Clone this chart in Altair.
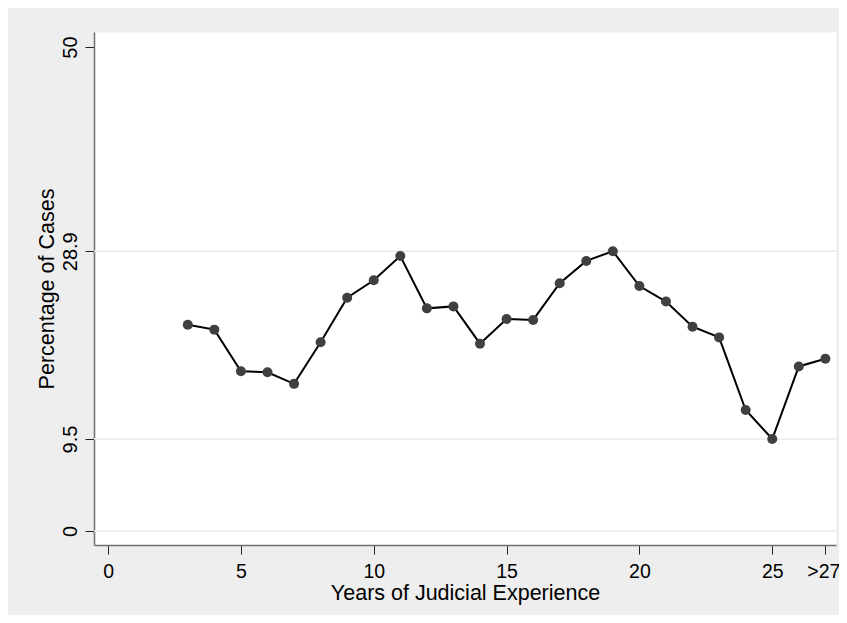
import altair as alt
import pandas as pd

years = list(range(3, 28))
pct = [21.3, 20.8, 16.5, 16.4, 15.2, 19.5, 24.1, 25.9, 28.4, 23.0, 23.2, 19.35,
       21.9, 21.8, 25.6, 27.9, 28.9, 25.3, 23.7, 21.1, 20.0, 12.5, 9.5, 17.0, 17.8]
x_ticks = [0, 5, 10, 15, 20, 25, 27]
y_ticks = [0, 9.5, 28.9, 50]
grid_vals = [0, 9.5, 28.9]

df = pd.DataFrame({"year": years, "pct": pct})
gdf = pd.DataFrame({"pct": grid_vals})

FONT = "Liberation Sans"
xscale = alt.Scale(domain=[-0.53, 27.4], nice=False, zero=False)
yscale = alt.Scale(domain=[-1.45, 51.55], nice=False, zero=False)

xaxis = alt.Axis(
    values=x_ticks,
    labelExpr="datum.value == 27 ? '>27' : datum.label",
    labelOffset={"condition": {"test": "datum.value == 27", "value": -2}, "value": 0},
    grid=False, tickSize=9, tickColor="#222222", tickWidth=1,
    domainColor="#707070", domainWidth=1.5,
    labelFont=FONT, labelFontSize=19.5, labelColor="black", labelPadding=8,
    labelOverlap=False, labelFlush=False,
    title="Years of Judicial Experience", titleFont=FONT, titleFontSize=21.5,
    titleFontWeight="normal", titleColor="black",
    titleBaseline="alphabetic", titleY=54,
)
yaxis = alt.Axis(
    values=y_ticks, format=".1~f",
    grid=False, tickSize=9, tickColor="#222222", tickWidth=1,
    domainColor="#707070", domainWidth=1.5,
    labelFont=FONT, labelFontSize=20, labelColor="black", labelPadding=9,
    labelAngle=-90, labelAlign="center", labelBaseline="alphabetic",
    labelOverlap=False, labelFlush=False,
    title="Percentage of Cases", titleFont=FONT, titleFontSize=21.5,
    titleFontWeight="normal", titleColor="black",
    titleBaseline="alphabetic", titleX=-41,
)

grid = alt.Chart(gdf).mark_rule(color="#EAEAEA", strokeWidth=1.5).encode(
    y=alt.Y("pct:Q", scale=yscale, axis=yaxis)
)
base = alt.Chart(df).encode(
    x=alt.X("year:Q", scale=xscale, axis=xaxis),
    y=alt.Y("pct:Q", scale=yscale, axis=yaxis),
)
line = base.mark_line(color="black", strokeWidth=2)
pts = base.mark_circle(color="#404040", opacity=1, size=100)

chart = (
    alt.layer(grid, line, pts)
    .properties(
        width=742, height=513,
        autosize=alt.AutoSizeParams(type="none"),
        padding={"left": 86, "top": 24, "right": 3, "bottom": 70},
        background="#EEEEEE",
    )
    .configure_view(fill="white", stroke="transparent")
)

chart.save("out.html", embed_options={"renderer": "svg", "actions": False})
